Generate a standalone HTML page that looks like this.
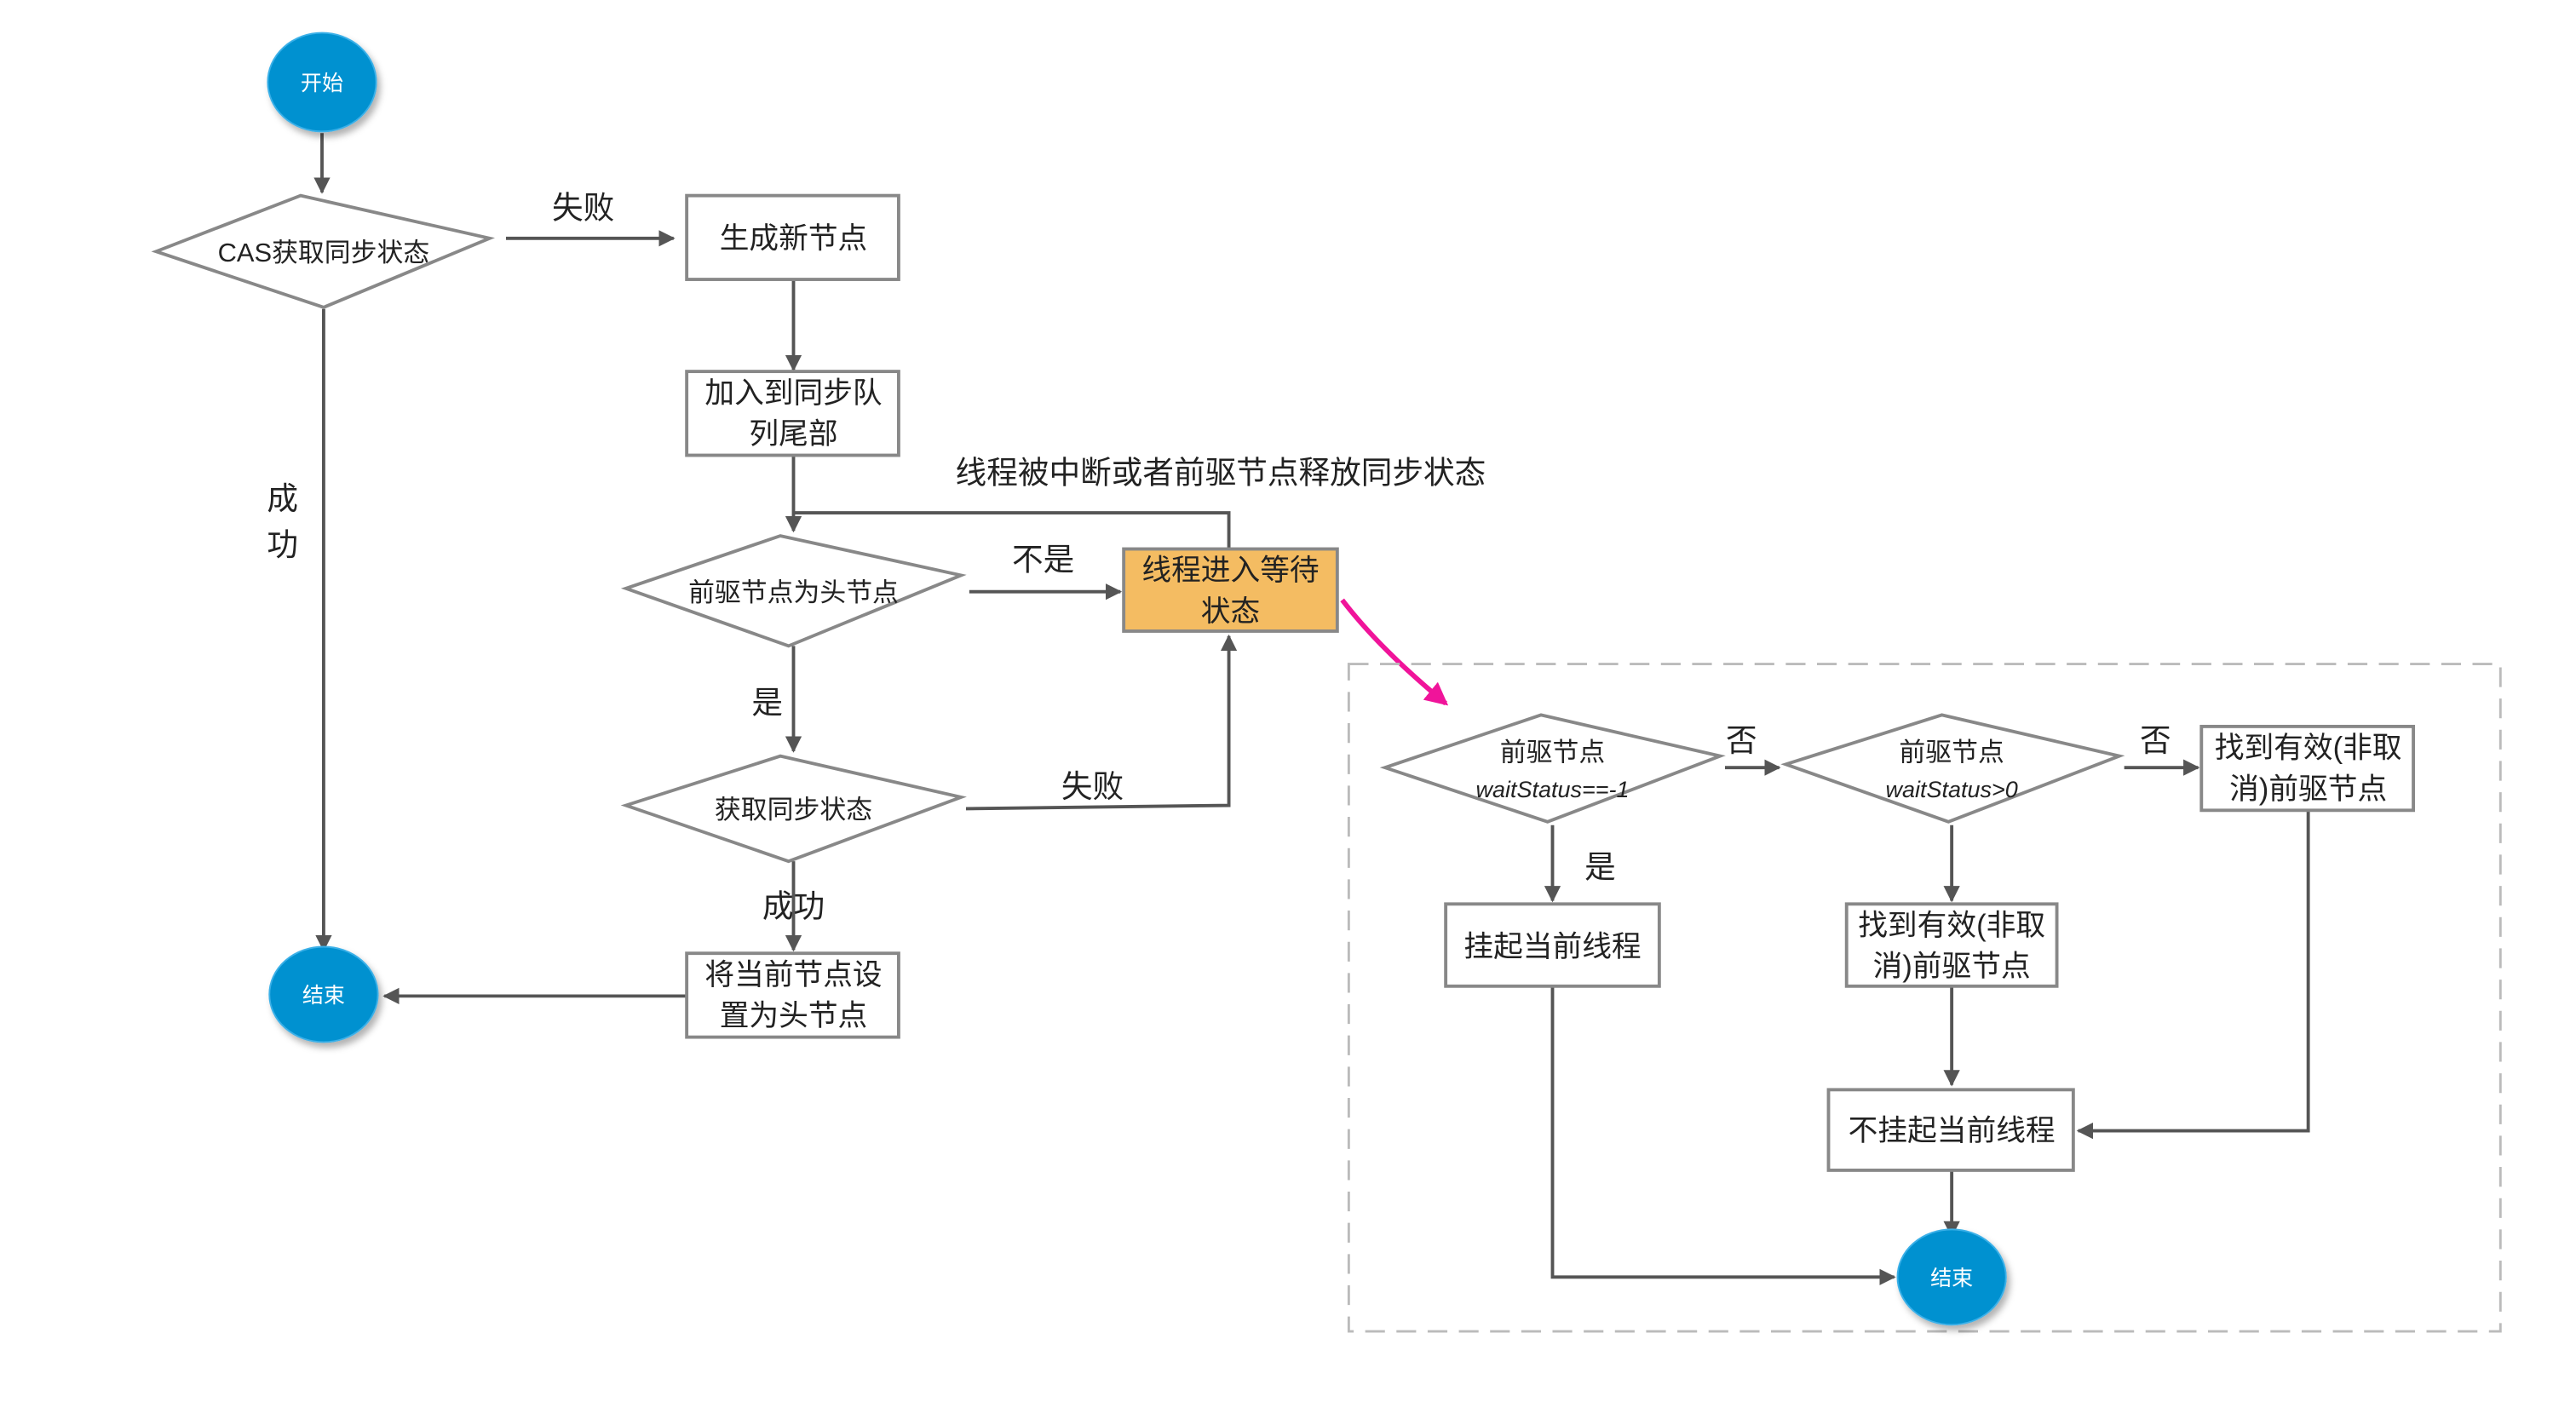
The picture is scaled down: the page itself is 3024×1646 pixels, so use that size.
<!DOCTYPE html>
<html><head><meta charset="utf-8">
<style>
html,body{margin:0;padding:0;background:#fff;}
svg{display:block;}
text{font-family:"Liberation Sans","Noto Sans CJK SC",sans-serif;fill:#222;}
</style></head>
<body>
<svg width="3024" height="1646" viewBox="0 0 1568 853" preserveAspectRatio="none" xmlns="http://www.w3.org/2000/svg">
<defs>
<marker id="a" markerWidth="10" markerHeight="10" refX="9" refY="5" orient="auto" markerUnits="userSpaceOnUse">
<path d="M0,0 L10,5 L0,10 z" fill="#555"/></marker>
<marker id="p" markerWidth="14" markerHeight="14" refX="12" refY="7" orient="auto" markerUnits="userSpaceOnUse">
<path d="M0,0 L14,7 L0,14 z" fill="#f0149a"/></marker>
<filter id="sh"><feDropShadow dx="2" dy="3" stdDeviation="2" flood-opacity="0.3"/></filter>
</defs>
<g fill="none" stroke="#555" stroke-width="2">
<path d="M196,81 L196,117" marker-end="url(#a)"/>
<path d="M308,145 L410,145" marker-end="url(#a)"/>
<path d="M483,170 L483,225" marker-end="url(#a)"/>
<path d="M483,277 L483,323" marker-end="url(#a)"/>
<path d="M748,335 L748,312 L483,312"/>
<path d="M590,360 L682,360" marker-end="url(#a)"/>
<path d="M483,393 L483,457" marker-end="url(#a)"/>
<path d="M588,492 L748,490 L748,387" marker-end="url(#a)"/>
<path d="M483,524 L483,578" marker-end="url(#a)"/>
<path d="M418,606 L234,606" marker-end="url(#a)"/>
<path d="M197,188 L197,578" marker-end="url(#a)"/>
<path d="M1050,467 L1083,467" marker-end="url(#a)"/>
<path d="M1293,467 L1338,467" marker-end="url(#a)"/>
<path d="M945,502 L945,548" marker-end="url(#a)"/>
<path d="M1188,502 L1188,548" marker-end="url(#a)"/>
<path d="M1188,600 L1188,660" marker-end="url(#a)"/>
<path d="M1405,493 L1405,688 L1265,688" marker-end="url(#a)"/>
<path d="M1188,712 L1188,752" marker-end="url(#a)"/>
<path d="M945,600 L945,777 L1153,777" marker-end="url(#a)"/>
</g>
<path d="M817,365 Q840,395 880,428" fill="none" stroke="#f0149a" stroke-width="3" marker-end="url(#p)"/>
<rect x="821" y="404" width="701" height="406" fill="none" stroke="#bbb" stroke-width="1.5" stroke-dasharray="12,7"/>

<g stroke="#888" stroke-width="2" fill="#fff">
<polygon points="95,153 183,119 298,145 197,187"/>
<rect x="418" y="119" width="129" height="51"/>
<rect x="418" y="226" width="129" height="51"/>
<polygon points="381,358 475,326 585,350 480,393"/>
<rect x="684" y="334" width="130" height="50" fill="#f4bc62"/>
<polygon points="381,490 475,460 585,485 480,524"/>
<rect x="418" y="580" width="129" height="51"/>
<polygon points="843,467 938,435 1047,460 942,500"/>
<polygon points="1087,465 1182,435 1290,460 1186,500"/>
<rect x="1340" y="442" width="129" height="51"/>
<rect x="880" y="550" width="130" height="50"/>
<rect x="1124" y="550" width="128" height="50"/>
<rect x="1113" y="663" width="149" height="49"/>
</g>
<g fill="#0391d0" stroke="#3ab0e8" stroke-width="1" filter="url(#sh)">
<ellipse cx="196" cy="50" rx="33" ry="30"/>
<ellipse cx="197" cy="605" rx="33" ry="29"/>
<ellipse cx="1188" cy="777" rx="33" ry="29"/>
</g>

<g text-anchor="middle" font-size="13">
<text x="196" y="55" style="fill:#fff">开始</text>
<text x="197" y="610" style="fill:#fff">结束</text>
<text x="1188" y="782" style="fill:#fff">结束</text>
</g>
<g text-anchor="middle" font-size="16">
<text x="197" y="159">CAS获取同步状态</text>
<text x="483" y="366">前驱节点为头节点</text>
<text x="483" y="498">获取同步状态</text>
<text x="945" y="463">前驱节点</text>
<text x="945" y="485" font-style="italic" font-size="14">waitStatus==-1</text>
<text x="1188" y="463">前驱节点</text>
<text x="1188" y="485" font-style="italic" font-size="14">waitStatus&gt;0</text>
</g>
<g text-anchor="middle" font-size="18">
<text x="483" y="151">生成新节点</text>
<text x="483" y="245">加入到同步队</text>
<text x="483" y="270">列尾部</text>
<text x="749" y="353">线程进入等待</text>
<text x="749" y="378">状态</text>
<text x="483" y="599">将当前节点设</text>
<text x="483" y="624">置为头节点</text>
<text x="1405" y="461">找到有效(非取</text>
<text x="1405" y="486">消)前驱节点</text>
<text x="945" y="582">挂起当前线程</text>
<text x="1188" y="569">找到有效(非取</text>
<text x="1188" y="594">消)前驱节点</text>
<text x="1188" y="694">不挂起当前线程</text>
</g>
<g text-anchor="middle" font-size="19">
<text x="355" y="133">失败</text>
<text x="743" y="294">线程被中断或者前驱节点释放同步状态</text>
<text x="635" y="347">不是</text>
<text x="467" y="434">是</text>
<text x="665" y="485">失败</text>
<text x="483" y="558">成功</text>
<text x="172" y="310">成</text>
<text x="172" y="338">功</text>
<text x="1060" y="457">否</text>
<text x="1312" y="457">否</text>
<text x="974" y="534">是</text>
</g>
</svg>
</body></html>
